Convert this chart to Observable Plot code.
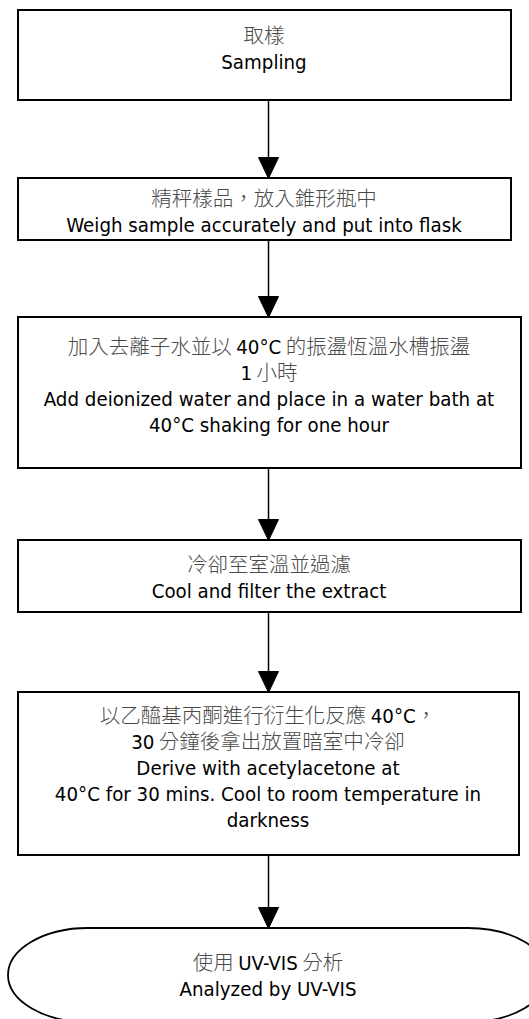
<!DOCTYPE html>
<html>
<head>
<meta charset="utf-8">
<script src="https://cdn.jsdelivr.net/npm/d3@7"></script>
<script src="https://cdn.jsdelivr.net/npm/@observablehq/plot@0.6"></script>
<style>
  html, body { margin: 0; padding: 0; background: #fff; }
  #chart svg { display: block; }
</style>
</head>
<body>
<div id="chart"></div>
<script>
// ---- content ----
const stepIds = ["sampling", "weigh", "shake", "cool", "derive", "analyze"];
const zhLines = [
  ["取樣"],
  ["精秤樣品，放入錐形瓶中"],
  ["加入去離子水並以 40°C 的振盪恆溫水槽振盪", "1 小時"],
  ["冷卻至室溫並過濾"],
  ["以乙醯基丙酮進行衍生化反應 40°C，", "30 分鐘後拿出放置暗室中冷卻"],
  ["使用 UV-VIS 分析"]
];
const enLines = [
  ["Sampling"],
  ["Weigh sample accurately and put into flask"],
  ["Add deionized water and place in a water bath at", "40°C shaking for one hour"],
  ["Cool and filter the extract"],
  ["Derive with acetylacetone at", "40°C for 30 mins. Cool to room temperature in", "darkness"],
  ["Analyzed by UV-VIS"]
];
const stepShape = ["process", "process", "process", "process", "process", "terminal"];

// ---- layout (page units) ----
const W = 529, H = 1019;
const boxX1 = [18, 18, 18, 18, 18, 8];
const boxX2 = [511, 511, 521, 521, 519, 548];
const boxY1 = [10, 178, 317, 540, 692, 928];
const boxY2 = [100, 240, 468, 612, 855, 1022];
const textCY = [49, 212, 386, 578, 768, 976];
const flowX = 268;
const lineH = 26;
const headW = 20, headH = 21;

// ---- derived tables ----
const boxes = stepIds.map((id, i) => ({id, shape: stepShape[i], x1: boxX1[i], x2: boxX2[i], y1: boxY1[i], y2: boxY2[i]}));
const lines = [];
stepIds.forEach((id, i) => {
  const all = [...zhLines[i].map(t => ({t, lang: "zh"})), ...enLines[i].map(t => ({t, lang: "en"}))];
  const n = all.length;
  all.forEach((d, j) => lines.push({id, text: d.t, lang: d.lang, x: (boxX1[i] + Math.min(boxX2[i], W)) / 2 - 1, y: textCY[i] + (j - (n - 1) / 2) * lineH}));
});
const links = [];
for (let i = 0; i < stepIds.length - 1; i++) links.push({from: stepIds[i], to: stepIds[i + 1], y1: boxY2[i], y2: boxY1[i + 1]});
const heads = [];
links.forEach((l, k) => {
  heads.push({k, x: flowX, y: l.y2});
  heads.push({k, x: flowX - headW / 2, y: l.y2 - headH});
  heads.push({k, x: flowX + headW / 2, y: l.y2 - headH});
  heads.push({k, x: flowX, y: l.y2});
});

const enFont = "'DejaVu Sans Condensed', 'DejaVu Sans', sans-serif";
const zhFont = "'Noto Sans CJK TC', 'Noto Sans CJK SC', sans-serif";
const enSize = 20.3, zhSize = 20.5;

const plot = Plot.plot({
  width: W,
  height: H,
  margin: 0,
  x: {domain: [0, W], range: [0, W], axis: null},
  y: {domain: [0, H], range: [0, H], axis: null},
  style: {background: "#fff"},
  marks: [
    Plot.ruleX(links, {x: () => flowX, y1: "y1", y2: d => d.y2 - headH + 2, stroke: "#000", strokeWidth: 1.5}),
    Plot.line(heads, {x: "x", y: "y", z: "k", fill: "#000", stroke: "#000", strokeWidth: 1}),
    Plot.rect(boxes.filter(d => d.shape === "process"), {x1: "x1", x2: "x2", y1: "y1", y2: "y2", fill: "#fff", stroke: "#000", strokeWidth: 2}),
    Plot.rect(boxes.filter(d => d.shape === "terminal"), {x1: "x1", x2: "x2", y1: "y1", y2: "y2", rx: 80, ry: 47, fill: "#fff", stroke: "#000", strokeWidth: 1.8}),
    Plot.text(lines.filter(d => d.lang === "zh"), {x: "x", y: "y", text: "text", fontSize: zhSize, fill: "#4a4a4a", fontFamily: zhFont, fontWeight: 300, className: "zhline"}),
    Plot.text(lines.filter(d => d.lang === "en"), {x: "x", y: "y", text: "text", fontSize: enSize, fill: "#000", fontFamily: enFont})
  ]
});

// Latin runs inside Chinese lines are set in the Latin face, as in the original
d3.select(plot).selectAll("g.zhline text").each(function () {
  const el = d3.select(this);
  const s = el.text();
  const parts = s.split(/([0-9A-Za-z°\-]+(?: [0-9A-Za-z°\-]+)*)/).filter(p => p.length);
  el.text(null);
  parts.forEach(p => {
    const latin = /^[0-9A-Za-z°\- ]+$/.test(p);
    el.append("tspan").text(p)
      .attr("font-family", latin ? enFont : null)
      .attr("fill", latin ? "#000" : null)
      .attr("font-size", latin ? enSize : null)
      .attr("font-weight", latin ? 400 : null);
  });
});

document.getElementById("chart").appendChild(plot);
</script>
</body>
</html>
